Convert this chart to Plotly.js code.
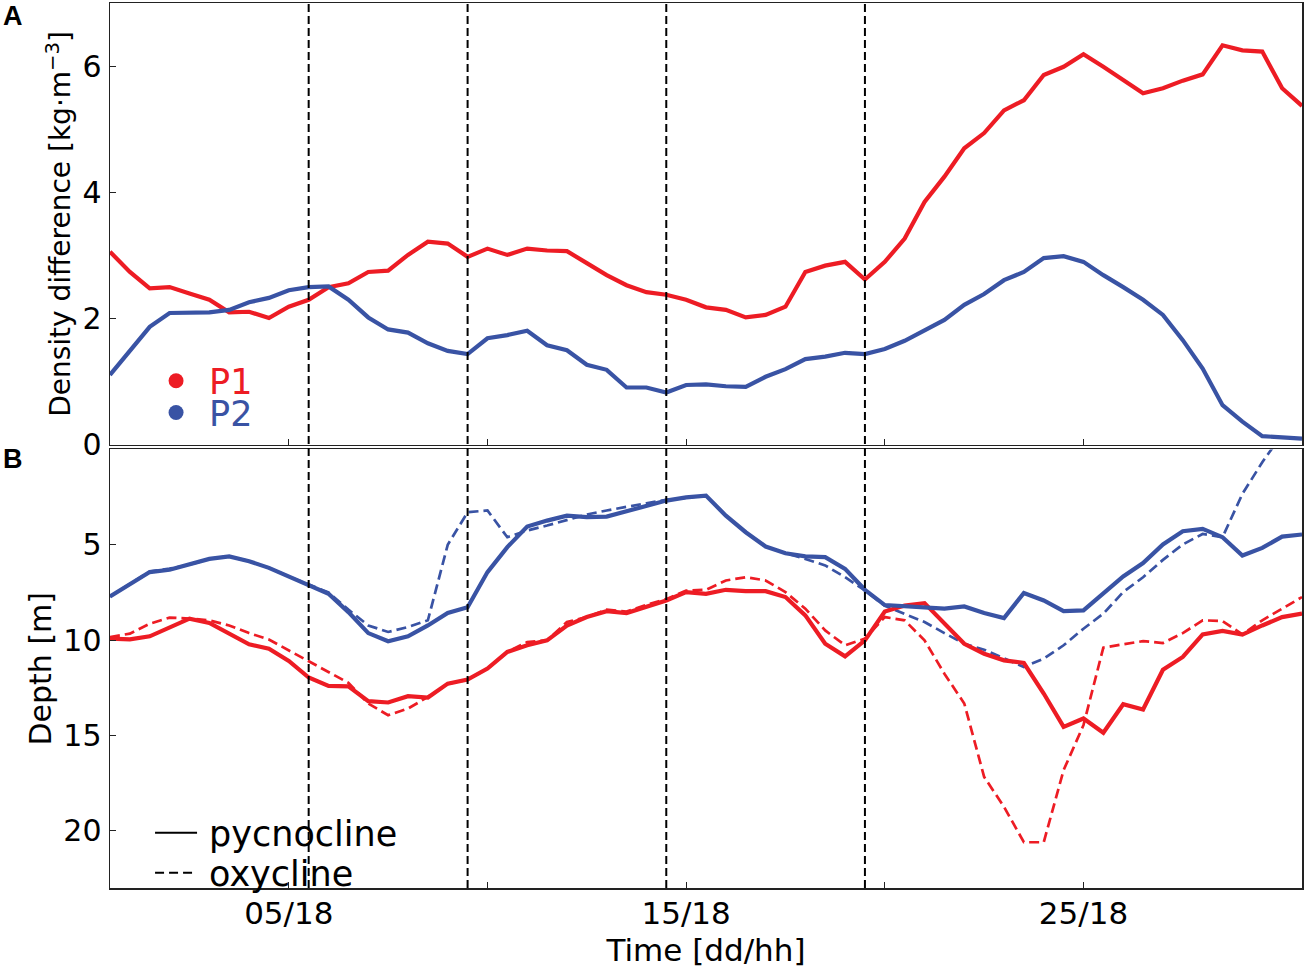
<!DOCTYPE html>
<html>
<head>
<meta charset="utf-8">
<script src="https://cdn.plot.ly/plotly-3.0.1.min.js"></script>
<style>
  html, body { margin: 0; padding: 0; background: #fff; }
  #chart { width: 1307px; height: 968px; }
</style>
</head>
<body>
<div id="chart"></div>
<script>
// Time in days of the month (day + hour/24), every 12 h from 01/06 to 31/06
const time = [
  1.25, 1.75, 2.25, 2.75, 3.25, 3.75, 4.25, 4.75, 5.25, 5.75,
  6.25, 6.75, 7.25, 7.75, 8.25, 8.75, 9.25, 9.75, 10.25, 10.75,
  11.25, 11.75, 12.25, 12.75, 13.25, 13.75, 14.25, 14.75, 15.25, 15.75,
  16.25, 16.75, 17.25, 17.75, 18.25, 18.75, 19.25, 19.75, 20.25, 20.75,
  21.25, 21.75, 22.25, 22.75, 23.25, 23.75, 24.25, 24.75, 25.25, 25.75,
  26.25, 26.75, 27.25, 27.75, 28.25, 28.75, 29.25, 29.75, 30.25, 30.75,
  31.25
];

// Panel A: density difference [kg m^-3]
const densP1 = [
  3.06, 2.74, 2.48, 2.50, 2.40, 2.30, 2.10, 2.11, 2.01, 2.19,
  2.30, 2.50, 2.56, 2.74, 2.76, 3.01, 3.22, 3.19, 2.98, 3.11,
  3.01, 3.11, 3.08, 3.07, 2.88, 2.69, 2.53, 2.42, 2.38, 2.30,
  2.18, 2.14, 2.02, 2.06, 2.19, 2.74, 2.84, 2.90, 2.62, 2.90,
  3.27, 3.85, 4.25, 4.70, 4.94, 5.30, 5.46, 5.86, 5.99, 6.19,
  5.99, 5.78, 5.57, 5.65, 5.77, 5.87, 6.33, 6.25, 6.23, 5.65,
  5.37
];
const densP2 = [
  1.11, 1.49, 1.87, 2.09, 2.09, 2.10, 2.14, 2.26, 2.33, 2.45,
  2.50, 2.51, 2.30, 2.02, 1.83, 1.78, 1.61, 1.49, 1.44, 1.69,
  1.74, 1.81, 1.58, 1.50, 1.27, 1.19, 0.91, 0.91, 0.83, 0.95,
  0.96, 0.93, 0.92, 1.08, 1.20, 1.36, 1.40, 1.46, 1.44, 1.52,
  1.65, 1.82, 1.98, 2.22, 2.39, 2.61, 2.74, 2.96, 2.99, 2.90,
  2.69, 2.50, 2.30, 2.06, 1.66, 1.21, 0.63, 0.37, 0.14, 0.12,
  0.10
];

// Panel B: depth [m]
const pycnoP1 = [
  9.92, 9.96, 9.80, 9.31, 8.87, 9.10, 9.66, 10.22, 10.45, 11.09,
  11.96, 12.40, 12.42, 13.20, 13.27, 12.94, 13.01, 12.28, 12.07, 11.49,
  10.62, 10.27, 10.01, 9.23, 8.79, 8.48, 8.58, 8.27, 7.92, 7.48,
  7.57, 7.36, 7.43, 7.43, 7.74, 8.70, 10.19, 10.85, 10.01, 8.50,
  8.18, 8.06, 9.14, 10.19, 10.71, 11.06, 11.20, 12.80, 14.55, 14.11,
  14.86, 13.36, 13.64, 11.55, 10.88, 9.70, 9.52, 9.71, 9.23, 8.79,
  8.61
];
const oxyP1 = [
  9.84, 9.66, 9.14, 8.82, 8.87, 8.96, 9.23, 9.63, 9.97, 10.53,
  11.09, 11.67, 12.24, 13.32, 13.94, 13.59, 12.98, 12.30, 12.07, 11.49,
  10.62, 10.10, 10.01, 9.05, 8.79, 8.40, 8.50, 8.15, 7.85, 7.40,
  7.36, 6.87, 6.70, 6.87, 7.48, 8.35, 9.49, 10.27, 9.92, 8.79,
  8.96, 10.01, 11.76, 13.32, 17.17, 18.74, 20.60, 20.60, 16.82, 14.46,
  10.39, 10.22, 10.05, 10.15, 9.63, 8.96, 9.00, 9.70, 8.96, 8.35,
  7.74
];
const pycnoP2 = [
  7.71, 7.08, 6.43, 6.31, 6.00, 5.74, 5.61, 5.86, 6.21, 6.66,
  7.08, 7.57, 8.53, 9.63, 10.06, 9.80, 9.23, 8.57, 8.27, 6.43,
  5.12, 4.04, 3.73, 3.47, 3.55, 3.52, 3.24, 2.94, 2.68, 2.51,
  2.42, 3.47, 4.34, 5.09, 5.44, 5.61, 5.65, 6.26, 7.36, 8.16,
  8.21, 8.27, 8.35, 8.23, 8.58, 8.84, 7.53, 7.92, 8.48, 8.44,
  7.57, 6.66, 5.96, 4.98, 4.29, 4.16, 4.60, 5.56, 5.16, 4.57,
  4.46
];
const oxyP2 = [
  7.71, 7.05, 6.40, 6.25, 6.05, 5.74, 5.61, 5.86, 6.21, 6.66,
  7.08, 7.50, 8.40, 9.23, 9.57, 9.31, 8.96, 5.00, 3.29, 3.20,
  4.60, 4.25, 3.99, 3.69, 3.41, 3.20, 3.03, 2.82, 2.64, 2.51,
  2.42, 3.47, 4.34, 5.09, 5.44, 5.74, 6.08, 6.70, 7.39, 8.20,
  8.61, 9.05, 9.63, 10.19, 10.50, 10.97, 11.41, 10.97, 10.27, 9.40,
  8.61, 7.48, 6.70, 5.79, 4.98, 4.43, 4.60, 2.33, 0.67, -0.80,
  -1.20
];

// Event times (vertical dashed lines)
const eventTimes = [6.25, 10.25, 15.25, 20.25];

// Tick positions and labels
const timeTickVals = [5.75, 15.75, 25.75];
const timeTickText = ['05/18', '15/18', '25/18'];
const timeMinorTickVals = [10.75, 20.75];
const densTickVals = [0, 2, 4, 6];
const depthTickVals = [5, 10, 15, 20];

const RED = '#ed1c24';
const BLUE = '#3953a4';
const FONT = 'DejaVu Sans, Verdana, sans-serif';
const SP = '\u2009';

const traces = [
  {x: time, y: densP1, xaxis: 'x2', yaxis: 'y2', mode: 'lines',
   line: {color: RED, width: 4.2}, showlegend: false, hoverinfo: 'skip'},
  {x: time, y: densP2, xaxis: 'x2', yaxis: 'y2', mode: 'lines',
   line: {color: BLUE, width: 4.2}, showlegend: false, hoverinfo: 'skip'},
  {x: time, y: oxyP1, xaxis: 'x', yaxis: 'y', mode: 'lines',
   line: {color: RED, width: 2.7, dash: '10px,5px'}, showlegend: false, hoverinfo: 'skip'},
  {x: time, y: oxyP2, xaxis: 'x', yaxis: 'y', mode: 'lines',
   line: {color: BLUE, width: 2.7, dash: '10px,5px'}, showlegend: false, hoverinfo: 'skip'},
  {x: time, y: pycnoP1, xaxis: 'x', yaxis: 'y', mode: 'lines',
   line: {color: RED, width: 4.2}, showlegend: false, hoverinfo: 'skip'},
  {x: time, y: pycnoP2, xaxis: 'x', yaxis: 'y', mode: 'lines',
   line: {color: BLUE, width: 4.2}, showlegend: false, hoverinfo: 'skip'},
  // legend-only entries
  {x: [null], y: [null], mode: 'markers', marker: {color: RED, size: 15},
   name: SP + '<span style="color:' + RED + '">P1</span>', legend: 'legend'},
  {x: [null], y: [null], mode: 'markers', marker: {color: BLUE, size: 15},
   name: SP + '<span style="color:' + BLUE + '">P2</span>', legend: 'legend2'},
  {x: [null], y: [null], mode: 'lines', line: {color: '#000', width: 2},
   name: SP + 'pycnocline', legend: 'legend3'},
  {x: [null], y: [null], mode: 'lines', line: {color: '#000', width: 2, dash: '9px,5px'},
   name: SP + 'oxycline', legend: 'legend4'}
];

const shapes = eventTimes.map(t => ({
  type: 'line', xref: 'x', yref: 'paper', x0: t, x1: t, y0: 0, y1: 1,
  line: {color: '#000', width: 2, dash: '8px,4px'}, layer: 'above'
}));

const axisCommon = {
  showline: true, linecolor: '#222', linewidth: 1.5, mirror: true,
  ticks: 'inside', ticklen: 6, tickwidth: 1.2, tickcolor: '#222',
  showgrid: false, zeroline: false,
  tickfont: {family: FONT, size: 30, color: '#000'}
};

const timeMinor = {tickmode: 'array', tickvals: timeMinorTickVals, ticks: 'inside',
                   ticklen: 6, tickwidth: 1.2, tickcolor: '#222', showgrid: false};

function legendAt(x, y) {
  return {
    x: x, y: y, xanchor: 'left', yanchor: 'middle',
    bgcolor: 'rgba(0,0,0,0)', borderwidth: 0, itemwidth: 42,
    font: {family: FONT, size: 35, color: '#000'}, tracegroupgap: 0,
    itemclick: false, itemdoubleclick: false
  };
}

const layout = {
  width: 1307, height: 968,
  margin: {l: 110, r: 5, t: 3, b: 80},
  paper_bgcolor: '#fff', plot_bgcolor: '#fff',
  font: {family: FONT, color: '#000'},
  hovermode: false,
  showlegend: true,
  xaxis: Object.assign({}, axisCommon, {
    domain: [0, 1], anchor: 'y', range: [1.25, 31.25],
    tickmode: 'array', tickvals: timeTickVals, ticktext: timeTickText,
    minor: timeMinor,
    tickfont: {family: FONT, size: 31, color: '#000'},
    ticklabelstandoff: -3,
    title: {text: 'Time [dd/hh]', font: {family: FONT, size: 31, color: '#000'}, standoff: 10}
  }),
  yaxis: Object.assign({}, axisCommon, {
    domain: [0, 0.4955], anchor: 'x', range: [23, 0],
    tickmode: 'array', tickvals: depthTickVals, ticklabelstandoff: 1,
    title: {text: 'Depth [m]', font: {family: FONT, size: 30, color: '#000'}, standoff: 3}
  }),
  xaxis2: Object.assign({}, axisCommon, {
    domain: [0, 1], anchor: 'y2', range: [1.25, 31.25], matches: 'x',
    tickmode: 'array', tickvals: timeTickVals, showticklabels: false,
    minor: timeMinor
  }),
  yaxis2: Object.assign({}, axisCommon, {
    domain: [0.5006, 1], anchor: 'x2', range: [0, 7],
    tickmode: 'array', tickvals: densTickVals, ticklabelstandoff: 1,
    title: {text: 'Density difference [kg·m<sup>−3</sup>]', font: {family: FONT, size: 28, color: '#000'}, standoff: 3}
  }),
  legend: legendAt(0.0336, 0.5729),
  legend2: legendAt(0.0336, 0.5370),
  legend3: legendAt(0.0336, 0.0621),
  legend4: legendAt(0.0336, 0.0169),
  shapes: shapes,
  annotations: [
    {text: '<b>A</b>', xref: 'paper', yref: 'paper', x: -0.0915, y: 0.9853,
     xanchor: 'left', yanchor: 'middle', showarrow: false,
     font: {family: 'Liberation Sans, Arial, sans-serif', size: 27, color: '#000'}},
    {text: '<b>B</b>', xref: 'paper', yref: 'paper', x: -0.0915, y: 0.4847,
     xanchor: 'left', yanchor: 'middle', showarrow: false,
     font: {family: 'Liberation Sans, Arial, sans-serif', size: 27, color: '#000'}}
  ]
};

Plotly.newPlot('chart', traces, layout, {displayModeBar: false, staticPlot: true});
</script>
</body>
</html>
